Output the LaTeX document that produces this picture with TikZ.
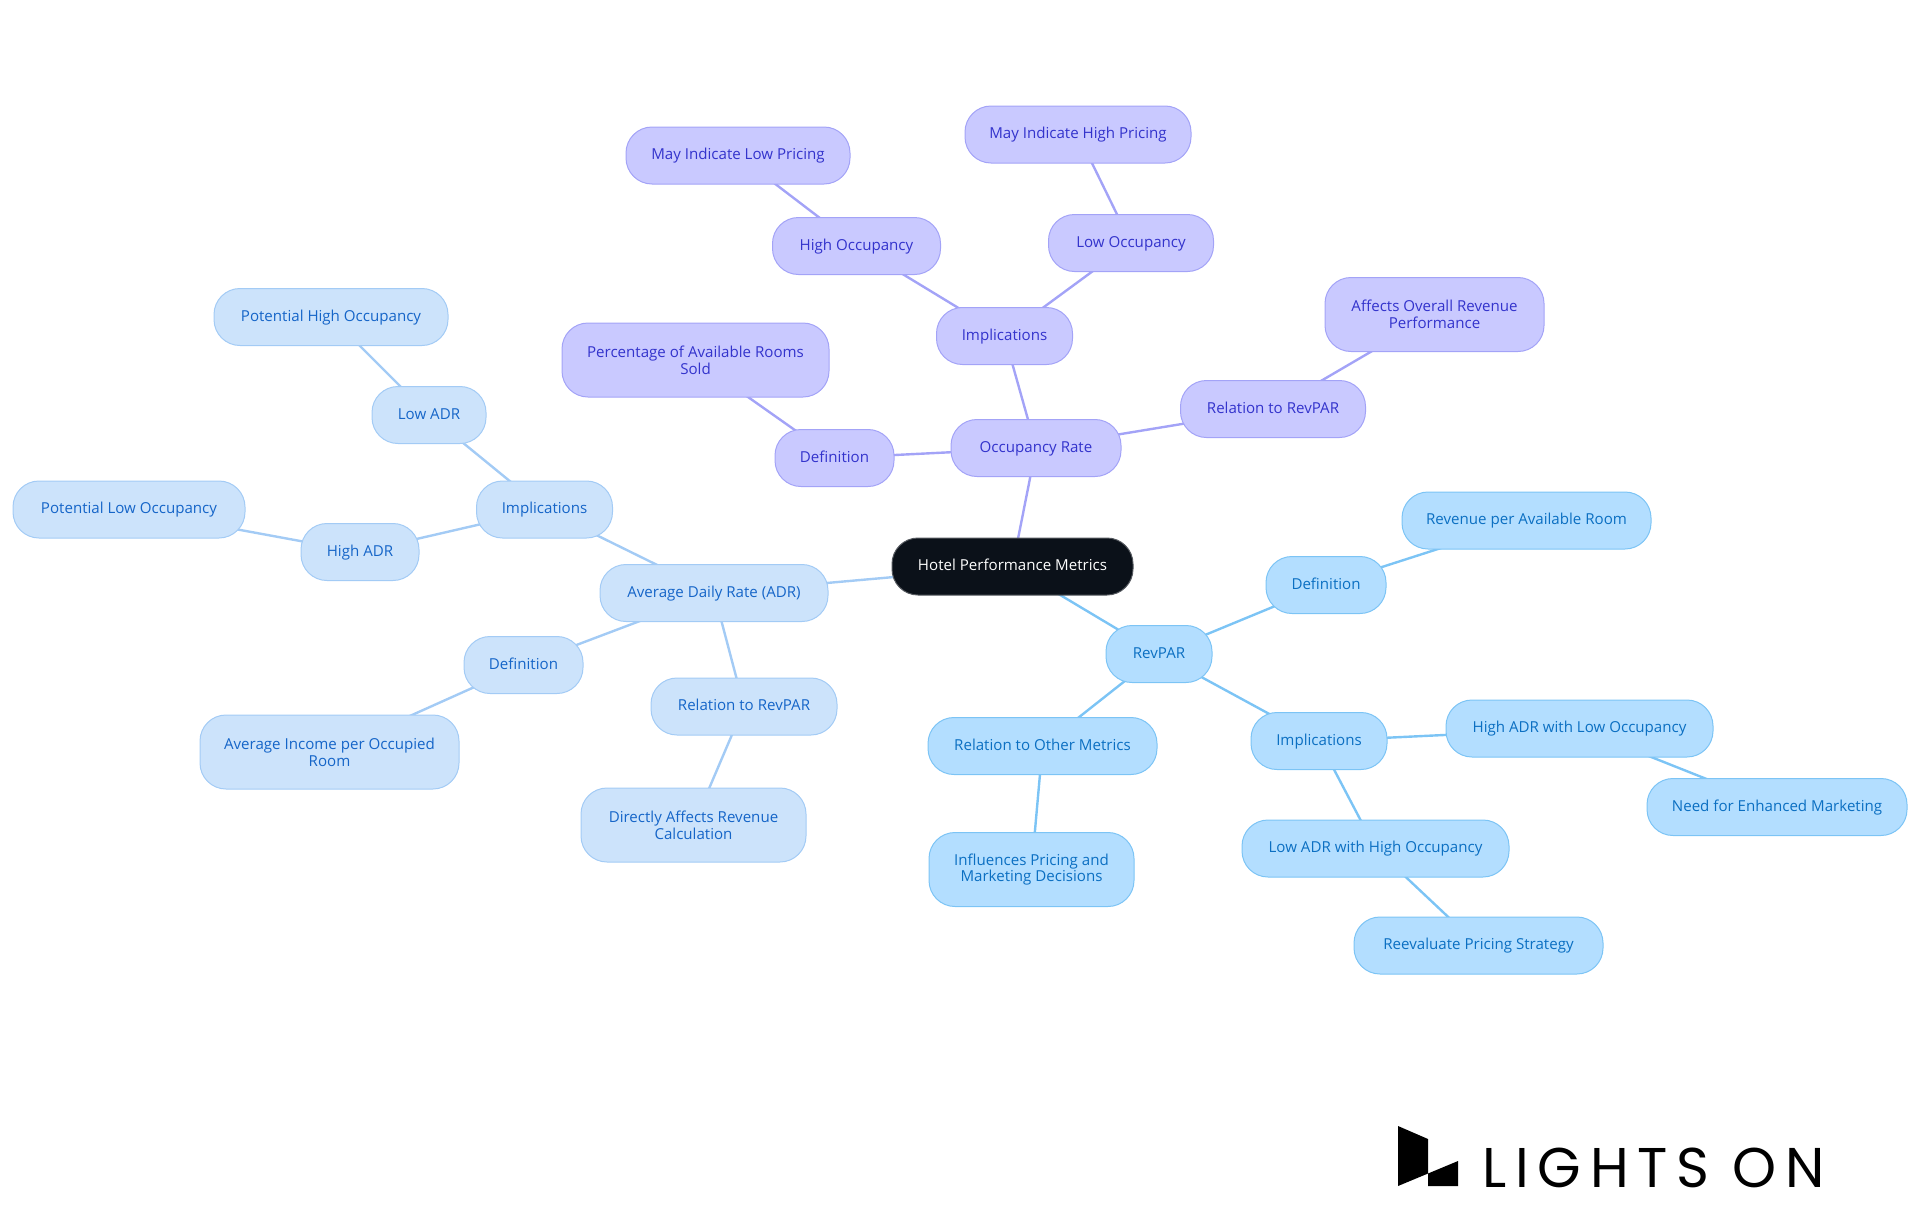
\documentclass[tikz,border=0pt]{standalone}
\usepackage{fontspec}
\setmainfont{Open Sans}
\newfontfamily\logofont[LetterSpace=15.5]{Poppins}
\usetikzlibrary{backgrounds}
\definecolor{adrfill}{HTML}{CCE3FB}\definecolor{adrline}{HTML}{A3CBF5}\definecolor{adrtext}{HTML}{1565C8}
\definecolor{occfill}{HTML}{C9C9FF}\definecolor{occline}{HTML}{A3A3F7}\definecolor{occtext}{HTML}{3333CC}
\definecolor{revfill}{HTML}{B3DEFF}\definecolor{revline}{HTML}{7CC4F5}\definecolor{revtext}{HTML}{0B6FC2}
\definecolor{rootfill}{HTML}{0B1119}
\tikzset{
  x=0.5pt,y=-0.5pt,
  bw/.style={minimum width=#1*0.5pt},
  pill/.style={rectangle,rounded corners=13pt,line width=0.5pt,inner sep=0pt,minimum height=28.5pt,align=center,font=\fontsize{7.55}{8.4}\selectfont},
  one/.style={text height=5.6pt,text depth=1.6pt},
  two/.style={minimum height=37pt},
  root/.style={pill,one,fill=rootfill,draw=rootfill!70!white,text=white},
  adr/.style={pill,fill=adrfill,draw=adrline,text=adrtext},
  occ/.style={pill,fill=occfill,draw=occline,text=occtext},
  rev/.style={pill,fill=revfill,draw=revline,text=revtext},
  adredge/.style={draw=adrline,line width=1.2pt},
  occedge/.style={draw=occline,line width=1.2pt},
  revedge/.style={draw=revline,line width=1.2pt},
}
\begin{document}
\begin{tikzpicture}
\useasboundingbox (0,0) rectangle (1920,1215);
\node[root,bw=241] (r) at (1012.5,566.5) {Hotel Performance Metrics};
% ADR
\node[adr,one,bw=228] (a) at (714,593) {Average Daily Rate (ADR)};
\node[adr,one,bw=136] (ai) at (544.5,509.5) {Implications};
\node[adr,one,bw=114] (al) at (429,415) {Low ADR};
\node[adr,one,bw=234] (alh) at (331,317) {Potential High Occupancy};
\node[adr,one,bw=118] (ah) at (360,552) {High ADR};
\node[adr,one,bw=232] (ahl) at (129,509.5) {Potential Low Occupancy};
\node[adr,one,bw=119] (ad) at (523.5,665) {Definition};
\node[adr,two,bw=259] (adi) at (329.5,752) {Average Income per Occupied\\Room};
\node[adr,one,bw=186] (ar) at (744,706.5) {Relation to RevPAR};
\node[adr,two,bw=225] (ard) at (693.5,825) {Directly Affects Revenue\\Calculation};
% Occupancy
\node[occ,one,bw=170] (o) at (1036,448) {Occupancy Rate};
\node[occ,one,bw=119] (od) at (834.5,458) {Definition};
\node[occ,two,bw=267] (odp) at (695.5,360) {Percentage of Available Rooms\\Sold};
\node[occ,one,bw=136] (oi) at (1004.5,336) {Implications};
\node[occ,one,bw=168] (oh) at (856.5,246) {High Occupancy};
\node[occ,one,bw=224] (ohm) at (738,155.5) {May Indicate Low Pricing};
\node[occ,one,bw=165] (ol) at (1131,243) {Low Occupancy};
\node[occ,one,bw=226] (olm) at (1078,134.5) {May Indicate High Pricing};
\node[occ,one,bw=185] (or) at (1273,409) {Relation to RevPAR};
\node[occ,two,bw=219] (ora) at (1434.5,314.5) {Affects Overall Revenue\\Performance};
% RevPAR
\node[rev,one,bw=106] (v) at (1159,654) {RevPAR};
\node[rev,one,bw=120] (vd) at (1326,585) {Definition};
\node[rev,one,bw=249] (vdr) at (1526.5,520.5) {Revenue per Available Room};
\node[rev,one,bw=136] (vi) at (1319,741) {Implications};
\node[rev,one,bw=267] (vh) at (1579.5,728.5) {High ADR with Low Occupancy};
\node[rev,one,bw=260] (vhn) at (1777,807) {Need for Enhanced Marketing};
\node[rev,one,bw=267] (vl) at (1375.5,848.5) {Low ADR with High Occupancy};
\node[rev,one,bw=249] (vlr) at (1478.5,945.5) {Reevaluate Pricing Strategy};
\node[rev,one,bw=229] (vr) at (1042.5,746) {Relation to Other Metrics};
\node[rev,two,bw=205] (vri) at (1031.5,869.5) {Influences Pricing and\\Marketing Decisions};
\begin{scope}[on background layer]
\draw[adredge] (r.center)--(a.center) (a.center)--(ai.center) (ai.center)--(al.center) (al.center)--(alh.center)
 (ai.center)--(ah.center) (ah.center)--(ahl.center) (a.center)--(ad.center) (ad.center)--(adi.center)
 (a.center)--(ar.center) (ar.center)--(ard.center);
\draw[occedge] (r.center)--(o.center) (o.center)--(od.center) (od.center)--(odp.center) (o.center)--(oi.center)
 (oi.center)--(oh.center) (oh.center)--(ohm.center) (oi.center)--(ol.center) (ol.center)--(olm.center)
 (o.center)--(or.center) (or.center)--(ora.center);
\draw[revedge] (r.center)--(v.center) (v.center)--(vd.center) (vd.center)--(vdr.center) (v.center)--(vi.center)
 (vi.center)--(vh.center) (vh.center)--(vhn.center) (vi.center)--(vl.center) (vl.center)--(vlr.center)
 (v.center)--(vr.center) (vr.center)--(vri.center);
\end{scope}
% Logo
\fill[black] (1398,1126)--(1428,1139)--(1428,1173.5)--(1398,1186)--cycle;
\fill[black] (1428,1173.5)--(1458,1161)--(1458,1186)--(1428,1186)--cycle;
\node[anchor=base west,inner sep=0pt,font=\logofont\fontsize{28}{28}\selectfont,text=black] (logo) at (1482,1187) {LIGHTS ON};
\end{tikzpicture}
\end{document}
